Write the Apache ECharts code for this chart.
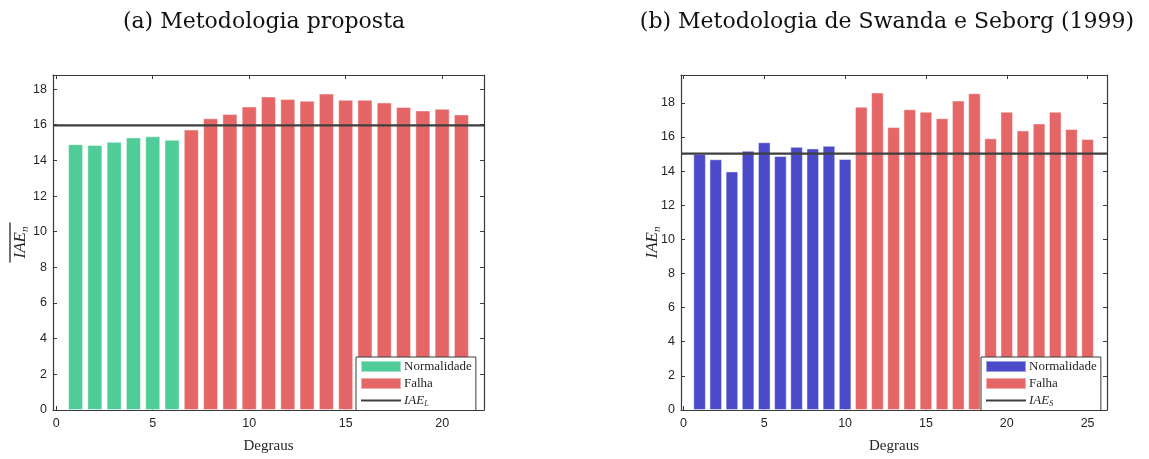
<!DOCTYPE html>
<html>
<head>
<meta charset="utf-8">
<script src="https://cdn.jsdelivr.net/npm/echarts@6/dist/echarts.min.js"></script>
<style>
html,body{margin:0;padding:0;background:#fff;}
#chart{width:1149px;height:459px;}
</style>
</head>
<body>
<div id="chart"></div>
<script>
// ---- Data ----
const titleA = '(a) Metodologia proposta';
const titleB = '(b) Metodologia de Swanda e Seborg (1999)';
const xLabel = 'Degraus';

// (a) proposed methodology
const normalA = [14.91, 14.87, 15.04, 15.29, 15.35, 15.16];            // steps 1..6
const failA   = [15.73, 16.36, 16.60, 17.02, 17.58, 17.44, 17.35, 17.75,
                 17.40, 17.40, 17.25, 17.00, 16.80, 16.89, 16.58];      // steps 7..21
const limitA  = 15.97;   // IAE_L

// (b) Swanda & Seborg (1999)
const normalB = [15.00, 14.69, 13.98, 15.19, 15.69, 14.88, 15.42, 15.33, 15.48, 14.71]; // steps 1..10
const failB   = [17.77, 18.60, 16.58, 17.62, 17.48, 17.10, 18.13, 18.56, 15.92,
                 17.48, 16.38, 16.79, 17.48, 16.46, 15.88];                             // steps 11..25
const limitB  = 15.02;   // IAE_S

// axis limits and tick values
const xRangeA = [-0.17, 22.17];
const xRangeB = [-0.15, 26.2];
const yMaxA = 18.79;
const yMaxB = 19.63;
const xTicksA = [0, 5, 10, 15, 20];
const xTicksB = [0, 5, 10, 15, 20, 25];
const yTicks  = [0, 2, 4, 6, 8, 10, 12, 14, 16, 18];

// ---- Build ----
function toPoints(vals, start) { return vals.map((v, i) => [start + i, v]); }

const GREEN = '#50CC98', RED = '#E56666', BLUE = '#4B4BC9', LINE = '#3F3F3F';
const AX = '#3a3a3a', TXT = '#262626';
const SERIF = '"DejaVu Serif", "Liberation Serif", serif';
const SERIF2 = '"Liberation Serif", "DejaVu Serif", serif';
const SANS = '"Liberation Sans", Arial, sans-serif';

function xAxisPair(gridIndex, range, ticks) {
  const common = {
    type: 'value', gridIndex, min: range[0], max: range[1],
    splitLine: { show: false },
    axisLine: { show: true, onZero: false, lineStyle: { color: AX, width: 1.2 } },
    axisTick: { show: true, inside: true, length: 4, customValues: ticks, lineStyle: { color: AX } }
  };
  return [
    Object.assign({}, common, {
      position: 'bottom',
      axisLabel: { show: true, customValues: ticks, color: TXT, fontFamily: SANS, fontSize: 12.5, margin: 7 },
      name: xLabel, nameLocation: 'middle', nameGap: 29, nameMoveOverlap: false,
      nameTextStyle: { fontFamily: SERIF2, fontSize: 15, color: TXT }
    }),
    Object.assign({}, common, { position: 'top', axisLabel: { show: false } })
  ];
}
function yAxisPair(gridIndex, max, nameText, nameGap) {
  const common = {
    type: 'value', gridIndex, min: 0, max: max,
    splitLine: { show: false },
    axisLine: { show: true, onZero: false, lineStyle: { color: AX, width: 1.2 } },
    axisTick: { show: true, inside: true, length: 4, customValues: yTicks, lineStyle: { color: AX } }
  };
  return [
    Object.assign({}, common, {
      position: 'left',
      axisLabel: { show: true, customValues: yTicks, color: TXT, fontFamily: SANS, fontSize: 12.5, margin: 6 },
      name: nameText, nameLocation: 'middle', nameGap: nameGap, nameRotate: 90, nameMoveOverlap: false,
      nameTextStyle: {
        color: TXT,
        rich: {
          ov: { width: 40, height: 1.3, backgroundColor: TXT, fontSize: 1, lineHeight: 2 },
          it: { fontFamily: SERIF2, fontStyle: 'italic', fontSize: 17, color: TXT },
          sub: { fontFamily: SERIF2, fontStyle: 'italic', fontSize: 11, color: TXT, padding: [9, 0, 0, 0] }
        }
      }
    }),
    Object.assign({}, common, { position: 'right', axisLabel: { show: false } })
  ];
}

const xa = xAxisPair(0, xRangeA, xTicksA);
const xb = xAxisPair(1, xRangeB, xTicksB);
const ya = yAxisPair(0, yMaxA, '{ov| }\n{it|IAE}{sub|n}', 22);
const yb = yAxisPair(1, yMaxB, '{it|IAE}{sub|n}', 18);

function barSeries(name, data, color, xi, yi) {
  return {
    type: 'bar', name, data, xAxisIndex: xi, yAxisIndex: yi,
    barWidth: '78%', barGap: '-100%',
    itemStyle: { color, borderColor: 'rgba(255,255,255,0.45)', borderWidth: 1 },
    emphasis: { disabled: true }, animation: false
  };
}
function lineSeries(name, value, range, xi, yi) {
  return {
    type: 'line', name, xAxisIndex: xi, yAxisIndex: yi,
    data: [[range[0], value], [range[1], value]],
    symbol: 'circle', symbolSize: 0, showSymbol: false, z: 5,
    lineStyle: { color: LINE, width: 2.2 },
    itemStyle: { color: 'rgba(0,0,0,0)', borderWidth: 0 },
    emphasis: { disabled: true }, animation: false
  };
}

const legendRich = {
  t: { fontFamily: SERIF2, fontSize: 13, color: TXT },
  it: { fontFamily: SERIF2, fontStyle: 'italic', fontSize: 13, color: TXT },
  sub: { fontFamily: SERIF2, fontStyle: 'italic', fontSize: 8, color: TXT, padding: [6, 0, 0, 0] }
};
function legendFmt(name) {
  const n = name.split(':')[1];
  if (n === 'L' || n === 'S') return '{it|IAE}{sub|' + n + '}';
  return '{t|' + n + '}';
}
function legendBox(left, names) {
  return {
    orient: 'vertical', left: left, top: 357,
    data: names.map(n => {
      const isLine = n.split(':')[1].length < 2;
      return isLine ? { name: n, itemStyle: { opacity: 0 } } : { name: n, icon: 'rect' };
    }),
    formatter: legendFmt,
    itemWidth: 40, itemHeight: 11, itemGap: 4,
    padding: [3, 4, 3, 4],
    borderColor: AX, borderWidth: 1, backgroundColor: '#fff',
    textStyle: { rich: legendRich, padding: [0, 0, 0, -2] },
    selectedMode: false
  };
}

const option = {
  backgroundColor: '#fff',
  animation: false,
  title: [
    { text: titleA, left: 259, top: 6, textAlign: 'center',
      textStyle: { fontFamily: SERIF, fontSize: 22, fontWeight: 'normal', color: '#111' } },
    { text: titleB, left: 882, top: 6, textAlign: 'center',
      textStyle: { fontFamily: SERIF, fontSize: 22, fontWeight: 'normal', color: '#111' } }
  ],
  grid: [
    { left: 53, right: 665, top: 75, bottom: 43 },
    { left: 681, right: 42, top: 75, bottom: 43 }
  ],
  xAxis: [xa[0], xb[0], xa[1], xb[1]],
  yAxis: [ya[0], yb[0], ya[1], yb[1]],
  legend: [
    legendBox(356, ['a:Normalidade', 'a:Falha', 'a:L']),
    legendBox(981, ['b:Normalidade', 'b:Falha', 'b:S'])
  ],
  series: [
    barSeries('a:Normalidade', toPoints(normalA, 1), GREEN, 0, 0),
    barSeries('a:Falha', toPoints(failA, 1 + normalA.length), RED, 0, 0),
    lineSeries('a:L', limitA, xRangeA, 0, 0),
    barSeries('b:Normalidade', toPoints(normalB, 1), BLUE, 1, 1),
    barSeries('b:Falha', toPoints(failB, 1 + normalB.length), RED, 1, 1),
    lineSeries('b:S', limitB, xRangeB, 1, 1)
  ]
};

const chart = echarts.init(document.getElementById('chart'), null, { renderer: 'canvas' });
chart.setOption(option);
</script>
</body>
</html>
